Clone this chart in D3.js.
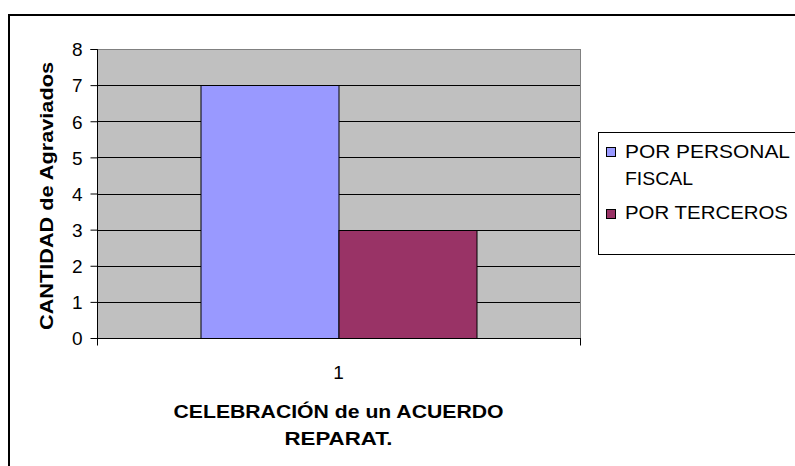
<!DOCTYPE html>
<html>
<head>
<meta charset="utf-8">
<script src="https://cdn.jsdelivr.net/npm/d3@7"></script>
<style>
  html, body { margin: 0; padding: 0; background: #fff; }
  svg { display: block; }
  svg text { font-family: "Liberation Sans", Arial, Helvetica, sans-serif !important; fill: #000; }
</style>
</head>
<body>
<script>
// ---- data ----
const categories = ["1"];
const seriesNames = ["POR PERSONAL FISCAL", "POR TERCEROS"];
const seriesPersonalFiscal = [7];
const seriesTerceros = [3];
const yTicks = [0, 1, 2, 3, 4, 5, 6, 7, 8];
const yTitle = "CANTIDAD de Agraviados";
const xTitleLines = ["CELEBRACIÓN de un ACUERDO", "REPARAT."];
const legendLines = [["POR PERSONAL", "FISCAL"], ["POR TERCEROS"]];
const colors = ["#9999FF", "#993366"];

const W = 795, H = 466;
const plot = { left: 97, right: 580, top: 49, bottom: 338 };
const FONT = '"Liberation Sans", Arial, Helvetica, sans-serif';

const svg = d3.select("body").append("svg")
  .attr("width", W).attr("height", H)
  .attr("font-family", FONT);

// outer chart border
svg.append("rect")
  .attr("x", 9).attr("y", 15).attr("width", W + 20).attr("height", H + 20)
  .attr("fill", "#fff").attr("stroke", "#000").attr("stroke-width", 2);

const y = d3.scaleLinear().domain([0, 8]).range([plot.bottom, plot.top]);
const x0 = d3.scaleBand().domain(categories).range([plot.left, plot.right])
  .paddingInner(0).paddingOuter(0.375);
const x1 = d3.scaleBand().domain(seriesNames).range([0, x0.bandwidth()]).padding(0);

// plot area
svg.append("rect")
  .attr("x", plot.left + 0.5).attr("y", plot.top + 0.5)
  .attr("width", plot.right - plot.left).attr("height", plot.bottom - plot.top)
  .attr("fill", "#C0C0C0").attr("stroke", "#808080").attr("stroke-width", 1);

// gridlines
svg.append("g").selectAll("line")
  .data(yTicks.filter(d => d > 0 && d < 8))
  .join("line")
  .attr("x1", plot.left).attr("x2", plot.right)
  .attr("y1", d => Math.round(y(d)) + 0.5).attr("y2", d => Math.round(y(d)) + 0.5)
  .attr("stroke", "#000").attr("stroke-width", 1);

// bars
const data = categories.map((c, i) => ({
  cat: c,
  vals: [seriesPersonalFiscal[i], seriesTerceros[i]]
}));
const groups = svg.append("g").selectAll("g").data(data).join("g")
  .attr("transform", d => `translate(${x0(d.cat)},0)`);
groups.selectAll("rect")
  .data(d => d.vals.map((v, j) => ({ name: seriesNames[j], v, j })))
  .join("rect")
  .attr("x", d => Math.round(x1(d.name)) + 0.5)
  .attr("y", d => Math.round(y(d.v)) + 0.5)
  .attr("width", x1.bandwidth())
  .attr("height", d => Math.round(y(0)) - Math.round(y(d.v)))
  .attr("fill", d => colors[d.j])
  .attr("stroke", "#000").attr("stroke-width", 1);

// y axis
const yAxis = d3.axisLeft(y).tickValues(yTicks).tickSize(7).tickPadding(8).tickFormat(d3.format("d"));
const gy = svg.append("g").attr("transform", `translate(${plot.left + 0.5},0)`).call(yAxis)
  .attr("font-family", FONT).attr("font-size", 19);
gy.select(".domain").attr("stroke", "#000").attr("d", `M-7,${plot.top + 0.5}H0V${plot.bottom + 0.5}`);
gy.selectAll(".tick line").attr("stroke", "#000");
gy.selectAll(".tick text").attr("fill", "#000").attr("dy", "0.36em");

// x axis
const gx = svg.append("g").attr("transform", `translate(0,${plot.bottom + 0.5})`);
gx.append("line").attr("x1", plot.left).attr("x2", plot.right + 1)
  .attr("stroke", "#000");
gx.selectAll("line.edge").data([plot.left + 0.5, plot.right + 0.5]).join("line")
  .attr("class", "edge")
  .attr("x1", d => d).attr("x2", d => d).attr("y1", 0).attr("y2", 7)
  .attr("stroke", "#000");
gx.selectAll("text").data(categories).join("text")
  .attr("x", d => x0(d) + x0.bandwidth() / 2).attr("y", 40)
  .attr("text-anchor", "middle").attr("font-size", 19)
  .text(d => d);

// x title
const cx = x0(categories[0]) + x0.bandwidth() / 2;
const xtl = [330, 108];
svg.selectAll("text.xt").data(xTitleLines).join("text")
  .attr("class", "xt")
  .attr("x", cx).attr("y", (d, i) => 418 + i * 27)
  .attr("text-anchor", "middle")
  .attr("font-size", 19).attr("font-weight", "bold")
  .attr("textLength", (d, i) => xtl[i]).attr("lengthAdjust", "spacingAndGlyphs")
  .text(d => d);

// y title
svg.append("text")
  .attr("transform", `translate(53,196) rotate(-90)`)
  .attr("text-anchor", "middle")
  .attr("font-size", 19).attr("font-weight", "bold")
  .attr("textLength", 268).attr("lengthAdjust", "spacingAndGlyphs")
  .text(yTitle);

// legend
const lg = svg.append("g");
lg.append("rect")
  .attr("x", 598.5).attr("y", 132.5).attr("width", 220).attr("height", 122)
  .attr("fill", "#fff").attr("stroke", "#000").attr("stroke-width", 1);
const legendSwatchY = [147, 209];
const legendBaselines = [[158, 185], [219]];
const legendLengths = [[165, 68], [163]];
seriesNames.forEach((s, i) => {
  lg.append("rect")
    .attr("x", 606.5).attr("y", legendSwatchY[i] + 0.5)
    .attr("width", 9).attr("height", 9)
    .attr("fill", colors[i]).attr("stroke", "#000").attr("stroke-width", 1);
  legendLines[i].forEach((t, k) => {
    lg.append("text")
      .attr("x", 625).attr("y", legendBaselines[i][k])
      .attr("font-size", 19)
      .attr("textLength", legendLengths[i][k]).attr("lengthAdjust", "spacingAndGlyphs")
      .text(t);
  });
});
</script>
</body>
</html>
